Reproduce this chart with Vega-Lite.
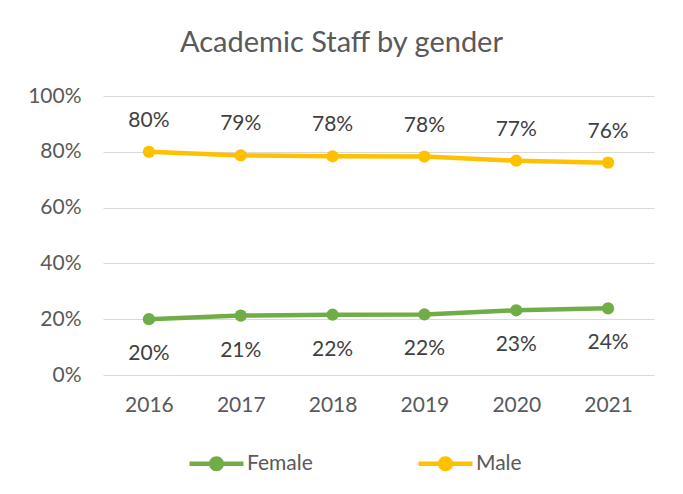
{
  "$schema": "https://vega.github.io/schema/vega-lite/v6.json",
  "width": 551,
  "height": 279,
  "autosize": {"type": "none"},
  "padding": {"left": 103, "top": 96, "right": 29, "bottom": 119},
  "background": "white",
  "title": {"text": "Academic Staff by gender", "fontSize": 29, "font": "Lato", "fontWeight": "normal", "color": "#595959", "anchor": "middle", "dx": -37, "offset": 27},
  "config": {
    "view": {"stroke": null},
    "font": "Lato"
  },
  "data": {"values": [
    {"year": "2016", "gender": "Female", "value": 0.200},
    {"year": "2017", "gender": "Female", "value": 0.213},
    {"year": "2018", "gender": "Female", "value": 0.216},
    {"year": "2019", "gender": "Female", "value": 0.217},
    {"year": "2020", "gender": "Female", "value": 0.232},
    {"year": "2021", "gender": "Female", "value": 0.239},
    {"year": "2016", "gender": "Male", "value": 0.800},
    {"year": "2017", "gender": "Male", "value": 0.787},
    {"year": "2018", "gender": "Male", "value": 0.784},
    {"year": "2019", "gender": "Male", "value": 0.783},
    {"year": "2020", "gender": "Male", "value": 0.768},
    {"year": "2021", "gender": "Male", "value": 0.761}
  ]},
  "encoding": {
    "x": {"field": "year", "type": "ordinal", "scale": {"type": "point", "padding": 0.5},
      "axis": {"title": null, "labelAngle": 0, "domain": false, "ticks": false, "labelPadding": 19, "labelFontSize": 21, "labelColor": "#595959", "labelFont": "Lato"}},
    "y": {"field": "value", "type": "quantitative", "scale": {"domain": [0, 1]},
      "axis": {"title": null, "format": ".0%", "values": [0, 0.2, 0.4, 0.6, 0.8, 1], "domain": false, "ticks": false, "labelPadding": 22, "labelFontSize": 21, "labelColor": "#595959", "labelFont": "Lato", "gridColor": "#d9d9d9", "gridWidth": 1}},
    "color": {"field": "gender", "type": "nominal", "scale": {"domain": ["Female", "Male"], "range": ["#70AD47", "#FFC000"]},
      "legend": {"title": null, "orient": "none", "legendX": 103, "legendY": 357, "direction": "horizontal",
        "symbolType": "M-2.7,-0.22H2.7V0.22H-2.7Z M0.75,0A0.75,0.75,0,1,1,-0.75,0A0.75,0.75,0,1,1,0.75,0Z",
        "symbolSize": 400, "symbolStrokeWidth": 0, "symbolOpacity": 1,
        "labelFontSize": 21, "labelColor": "#595959", "labelFont": "Lato", "labelOffset": 20, "columnPadding": 105}}
  },
  "layer": [
    {
      "mark": {"type": "line", "strokeWidth": 4.5}
    },
    {
      "mark": {"type": "point", "filled": true, "opacity": 1, "size": 150}
    },
    {
      "transform": [{"filter": "datum.gender === 'Male'"}],
      "mark": {"type": "text", "dy": -31, "fontSize": 21, "color": "#404040", "font": "Lato"},
      "encoding": {"text": {"field": "value", "type": "quantitative", "format": ".0%"}, "color": {"value": "#404040"}}
    },
    {
      "transform": [{"filter": "datum.gender === 'Female'"}],
      "mark": {"type": "text", "dy": 35, "fontSize": 21, "color": "#404040", "font": "Lato"},
      "encoding": {"text": {"field": "value", "type": "quantitative", "format": ".0%"}, "color": {"value": "#404040"}}
    }
  ]
}
